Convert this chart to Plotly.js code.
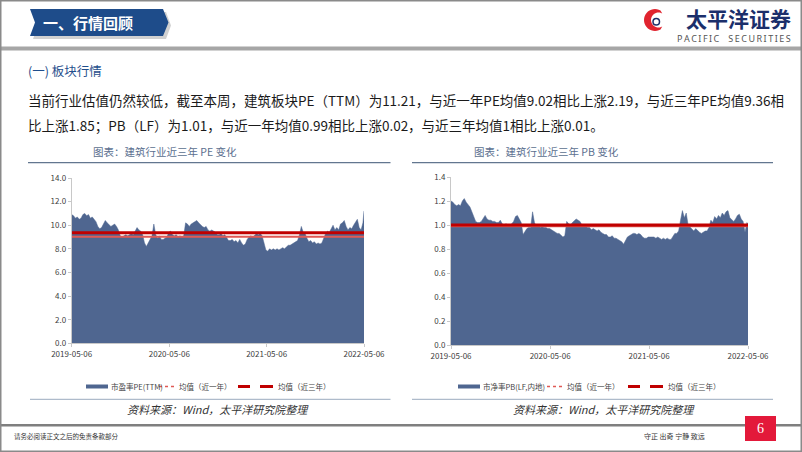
<!DOCTYPE html>
<html><head><meta charset="utf-8">
<script src="https://cdn.plot.ly/plotly-3.0.1.min.js"></script>
<style>html,body{margin:0;padding:0;background:#fff;}#chart{width:802px;height:452px;}</style>
</head><body><div id="chart"></div>
<script>
// ---------------- data ----------------
const startDate = '2019-05-06';
const endDate = '2022-05-06';
const xTickVals = ['2019-05-06', '2020-05-06', '2021-05-06', '2022-05-06'];
const xTickText = ['2019-05-06', '2020-05-06', '2021-05-06', '2022-05-06'];

// 建筑行业 市盈率PE(TTM), weekly readings
const peValues = [
  10.9,10.8,10.6,10.7,10.5,10.6,10.9,11.0,10.8,10.9,
  10.6,10.7,10.5,10.3,9.9,9.7,9.8,10.1,10.4,10.2,
  10.0,9.9,10.0,10.1,9.9,9.6,9.1,9.0,9.1,9.2,
  9.1,9.2,9.3,9.2,9.5,9.8,9.6,9.5,9.2,8.5,
  8.2,8.5,8.8,9.1,10.1,9.2,8.9,9.1,8.8,8.8,
  8.9,9.0,9.4,9.5,9.2,9.1,9.2,9.0,9.1,9.0,
  9.1,10.2,10.1,9.9,10.1,10.2,10.3,10.4,10.2,10.0,
  9.9,9.8,9.9,9.6,9.5,9.6,9.5,9.4,9.2,9.2,
  9.3,9.1,9.2,8.9,8.7,8.7,8.8,8.6,8.7,8.5,
  8.8,8.5,8.3,8.4,8.8,9.0,9.1,9.0,9.2,9.3,
  9.2,9.3,9.1,8.5,7.9,7.8,8.0,7.9,8.0,7.9,
  8.0,7.9,8.0,8.1,8.0,8.2,8.3,8.3,8.4,8.5,
  8.6,8.7,9.2,9.9,9.4,9.3,8.9,8.6,8.7,8.5,
  8.6,8.4,8.5,8.4,8.5,8.9,9.3,9.5,9.4,9.7,
  10.0,9.6,9.8,9.6,10.1,10.2,10.4,9.9,9.6,9.8,
  9.7,10.0,10.3,10.5,9.8,9.6,10.2,11.21
];
// 建筑行业 市净率PB(LF,内地), weekly readings
const pbValues = [
  1.20,1.19,1.17,1.16,1.17,1.16,1.20,1.22,1.19,1.17,
  1.15,1.11,1.07,1.03,1.02,1.02,1.03,1.06,1.08,1.05,
  1.04,1.04,1.03,1.03,1.02,1.02,1.04,1.01,1.00,1.01,
  1.00,1.00,1.01,1.03,1.07,1.08,1.05,1.02,0.92,0.95,
  0.97,0.98,0.98,1.11,1.02,0.99,1.00,0.98,0.99,0.98,
  0.98,0.97,0.97,0.96,0.95,0.94,0.93,0.93,0.91,0.90,
  0.91,1.03,1.01,1.00,1.02,1.04,1.05,1.04,1.03,1.00,
  1.00,0.99,0.98,0.98,0.96,0.97,0.96,0.95,0.96,0.94,
  0.93,0.92,0.92,0.90,0.90,0.91,0.89,0.89,0.88,0.87,
  0.86,0.84,0.87,0.90,0.91,0.92,0.93,0.93,0.92,0.93,
  0.92,0.90,0.89,0.89,0.90,0.90,0.90,0.90,0.89,0.90,
  0.89,0.88,0.89,0.88,0.89,0.88,0.88,0.91,0.93,0.93,
  0.95,1.04,1.12,1.06,1.10,1.00,0.98,0.97,0.95,0.97,
  0.95,0.94,0.93,0.94,0.95,0.95,0.98,1.04,1.02,1.07,
  1.05,1.08,1.06,1.10,1.08,1.11,1.12,1.06,1.04,1.03,
  1.05,1.08,1.09,1.05,1.03,0.94,1.02,1.01
];
const peMean1y = 9.02, peMean3y = 9.36;
const pbMean1y = 0.99, pbMean3y = 1.00;
const peTicks = [0, 2, 4, 6, 8, 10, 12, 14];
const pbTicks = [0, 0.2, 0.4, 0.6, 0.8, 1.0, 1.2, 1.4];

// weekly observation dates, last one is the report date
function weeklyDates(n) {
  const out = [], t0 = Date.UTC(2019, 4, 6), wk = 7 * 86400000;
  for (let i = 0; i < n; i++) out.push(new Date(t0 + i * wk).toISOString().slice(0, 10));
  out.push(endDate);
  return out;
}
const peDates = weeklyDates(peValues.length - 1);
const pbDates = weeklyDates(pbValues.length - 1);

// ---------------- styling helpers ----------------
const W = 802, H = 452;
const X = p => p / W, Y = p => 1 - p / H;
const CJK = '"Noto Sans CJK SC", "Noto Sans", sans-serif';
const AREA = '#4f6690', RED_L = '#e05a55', RED_D = '#c00000';

const shapes = [];
const ann = [];
function rect(x0, y0, x1, y1, fill, line) {
  shapes.push({type: 'rect', xref: 'paper', yref: 'paper', x0: X(x0), x1: X(x1), y0: Y(y1), y1: Y(y0),
    fillcolor: fill || 'rgba(0,0,0,0)', line: line || {width: 0}, layer: 'above'});
}
function hline(x0, x1, y, color, width, dash) {
  shapes.push({type: 'line', xref: 'paper', yref: 'paper', x0: X(x0), x1: X(x1), y0: Y(y), y1: Y(y),
    line: {color, width, dash: dash || 'solid'}, layer: 'above'});
}
function poly(pts, fill, opacity) {
  shapes.push({type: 'path', xref: 'paper', yref: 'paper',
    path: 'M' + pts.map(p => X(p[0]) + ',' + Y(p[1])).join('L') + 'Z',
    fillcolor: fill, line: {width: 0}, opacity: opacity == null ? 1 : opacity, layer: 'above'});
}
function T(x, y, text, size, color, xanchor, family) {
  ann.push({xref: 'paper', yref: 'paper', x: X(x), y: Y(y), text, showarrow: false,
    xanchor: xanchor || 'left', yanchor: 'middle', borderpad: 0,
    font: {family: family || CJK, size, color}});
}

// ---------------- slide decoration ----------------
// header band
rect(0, 46.5, 802, 50.5, '#a6a6a6');
// banner shadow + banner
poly([[33,12],[166,12],[171,25.5],[166,39],[33,39],[38,25.5]], '#9a9a9a', 0.45);
poly([[30,9],[163,9],[168.5,22.5],[163,36],[30,36],[35,22.5]], '#1e4c8a');
T(42, 22.5, '<b>一、行情回顾</b>', 15, '#ffffff');
// logo
(function () {
  const pts = [];
  for (let a = 300; a >= 60; a -= 10) { const r = a * Math.PI / 180; pts.push([655 + 11 * Math.cos(r), 20 - 11 * Math.sin(r)]); }
  for (let a = 60; a <= 300; a += 10) { const r = a * Math.PI / 180; pts.push([658.5 + 7.5 * Math.cos(r), 20 - 7.5 * Math.sin(r)]); }
  poly(pts, '#e0242f');
  shapes.push({type: 'circle', xref: 'paper', yref: 'paper', x0: X(653), x1: X(659.5), y0: Y(25), y1: Y(18.5),
    line: {color: '#1d2f6a', width: 1.5}, fillcolor: 'rgba(0,0,0,0)', layer: 'above'});
})();
T(792, 18, '<b>太平洋证券</b>', 21, '#1b2f6b', 'right');
T(792, 38.5, 'P\u2009A\u2009C\u2009I\u2009F\u2009I\u2009C\u2003S\u2009E\u2009C\u2009U\u2009R\u2009I\u2009T\u2009I\u2009E\u2009S', 9, '#555555', 'right', '"Noto Sans", sans-serif');

// section heading + paragraph
T(27, 71, '(一) 板块行情', 12.5, '#1f4e8c');
T(27, 100, '当前行业估值仍然较低，截至本周，建筑板块PE（TTM）为11.21，与近一年PE均值9.02相比上涨2.19，与近三年PE均值9.36相', 13.5, '#1a1a1a');
T(27, 125, '比上涨1.85；PB（LF）为1.01，与近一年均值0.99相比上涨0.02，与近三年均值1相比上涨0.01。', 13.5, '#1a1a1a');

// chart titles and rules
T(164.5, 151.5, '图表：建筑行业近三年 PE 变化', 10.5, '#5b6f8f', 'center');
T(546.5, 151.5, '图表：建筑行业近三年 PB 变化', 10.5, '#5b6f8f', 'center');
hline(28, 390.5, 162.7, '#62768f', 1.2);
hline(412, 773, 162.7, '#62768f', 1.2);
hline(30, 390.5, 399.3, '#9aabbf', 1);
hline(412, 773, 399.3, '#9aabbf', 1);
T(218, 408.5, '<i>资料来源：Wind，太平洋研究院整理</i>', 11, '#333333', 'center');
T(603.5, 408.5, '<i>资料来源：Wind，太平洋研究院整理</i>', 11, '#333333', 'center');

// legends
function legend(ox, label1) {
  rect(ox[0], 384.5, ox[0] + 22, 388.5, AREA);
  T(ox[0] + 24, 386.5, label1, 7.5, '#444444');
  hline(ox[1], ox[1] + 17, 386.5, RED_L, 1.3, 'dot');
  T(ox[1] + 19, 386.5, '均值（近一年）', 7.5, '#444444');
  hline(ox[2], ox[2] + 12, 386.5, RED_D, 3);
  hline(ox[2] + 22, ox[2] + 35, 386.5, RED_D, 3);
  T(ox[2] + 39, 386.5, '均值（近三年）', 7.5, '#444444');
}
legend([86, 159, 238], '市盈率PE(TTM)');
legend([458, 547, 628], '市净率PB(LF,内地)');

// footer
rect(0, 424, 802, 426.5, '#7f7f7f');
T(13, 435.5, '请务必阅读正文之后的免责条款部分', 6.5, '#333333');
T(706, 435.5, '守正 出奇 宁静 致远', 7, '#333333', 'right');
rect(745, 416, 776, 441, '#e3193a');
T(760.5, 428.5, '6', 14, '#ffffff', 'center', '"Liberation Serif", serif');
// slide frame
rect(0.75, 0.75, 801.25, 451.25, null, {color: '#8a8a8a', width: 1.5});

// ---------------- traces ----------------
const traces = [
  {x: peDates, y: peValues, type: 'scatter', mode: 'lines', fill: 'tozeroy', fillcolor: AREA,
   line: {color: AREA, width: 0.5}, xaxis: 'x', yaxis: 'y', name: '市盈率PE(TTM)'},
  {x: [startDate, endDate], y: [peMean1y, peMean1y], type: 'scatter', mode: 'lines',
   line: {color: RED_L, width: 2}, xaxis: 'x', yaxis: 'y', name: '均值（近一年）'},
  {x: [startDate, endDate], y: [peMean3y, peMean3y], type: 'scatter', mode: 'lines',
   line: {color: RED_D, width: 3}, xaxis: 'x', yaxis: 'y', name: '均值（近三年）'},
  {x: pbDates, y: pbValues, type: 'scatter', mode: 'lines', fill: 'tozeroy', fillcolor: AREA,
   line: {color: AREA, width: 0.5}, xaxis: 'x2', yaxis: 'y2', name: '市净率PB(LF,内地)'},
  {x: [startDate, endDate], y: [pbMean1y, pbMean1y], type: 'scatter', mode: 'lines',
   line: {color: RED_L, width: 2}, xaxis: 'x2', yaxis: 'y2', name: '均值（近一年）'},
  {x: [startDate, endDate], y: [pbMean3y, pbMean3y], type: 'scatter', mode: 'lines',
   line: {color: RED_D, width: 3}, xaxis: 'x2', yaxis: 'y2', name: '均值（近三年）'}
];

const xBase = {type: 'date', range: [startDate, endDate], tickvals: xTickVals, ticktext: xTickText,
  showline: true, linecolor: '#c8c8c8', linewidth: 1, ticks: 'outside', ticklen: 3, tickcolor: '#c8c8c8',
  showgrid: false, zeroline: false, tickfont: {family: CJK, size: 8, color: '#404040'}, fixedrange: true};
const yBase = {showline: true, linecolor: '#c8c8c8', linewidth: 1, ticks: 'outside', ticklen: 3, tickcolor: '#c8c8c8',
  showgrid: false, zeroline: false, tickformat: '.1f', tickfont: {family: CJK, size: 8, color: '#404040'}, fixedrange: true};

const layout = {
  width: W, height: H, margin: {l: 0, r: 0, t: 0, b: 0}, paper_bgcolor: '#ffffff', plot_bgcolor: 'rgba(0,0,0,0)',
  showlegend: false, font: {family: CJK},
  xaxis: Object.assign({}, xBase, {domain: [X(71.7), X(364)], anchor: 'y'}),
  yaxis: Object.assign({}, yBase, {domain: [Y(343.3), Y(178)], range: [0, 14], tickvals: peTicks, anchor: 'x'}),
  xaxis2: Object.assign({}, xBase, {domain: [X(451), X(748)], anchor: 'y2'}),
  yaxis2: Object.assign({}, yBase, {domain: [Y(345), Y(177)], range: [0, 1.4], tickvals: pbTicks, anchor: 'x2'}),
  shapes, annotations: ann
};
Plotly.newPlot('chart', traces, layout, {staticPlot: true, displayModeBar: false});
</script></body></html>
